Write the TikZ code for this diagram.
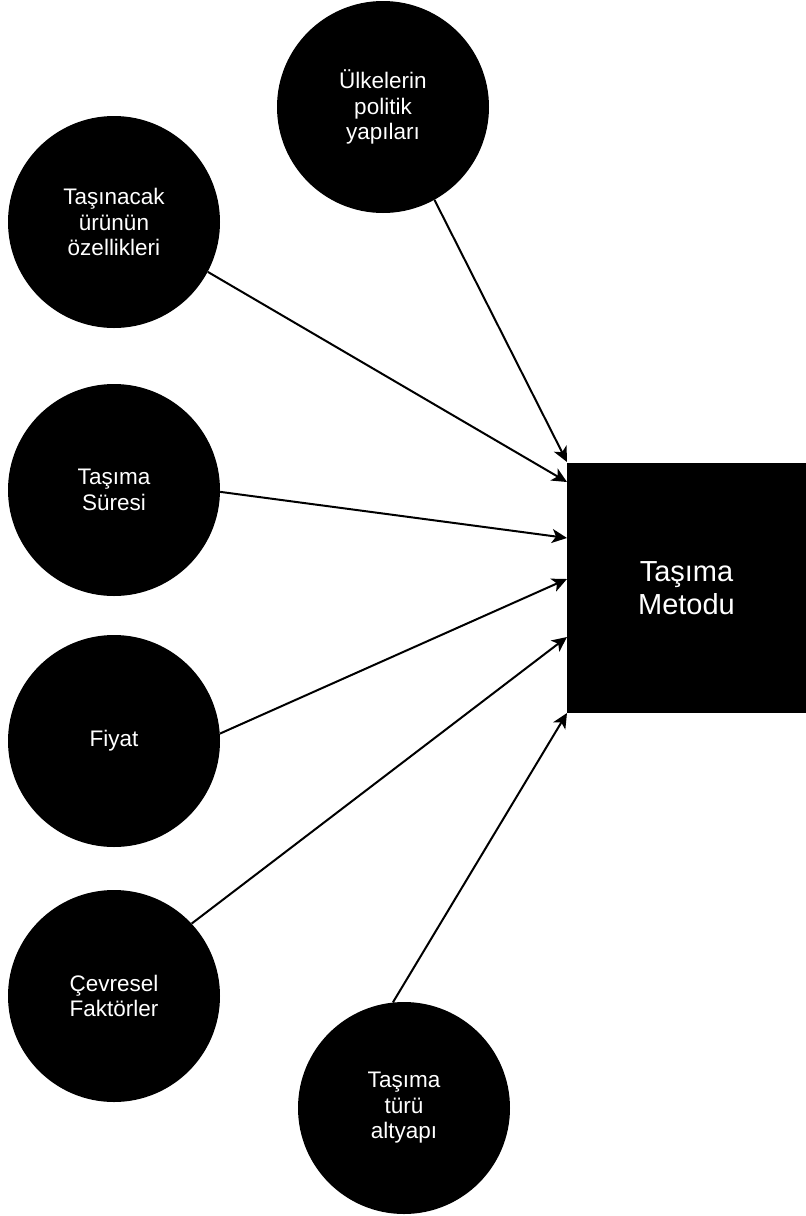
\documentclass[tikz,border=0pt]{standalone}
\usepackage{fontspec}
\setmainfont{Liberation Sans}
\usetikzlibrary{arrows.meta}
\begin{document}
\begin{tikzpicture}[x=1pt,y=-1pt,
  factor/.style={circle,fill=black,draw=none,minimum size=212pt,inner sep=0pt,
    text=white,align=center,font=\fontsize{22.5}{25.5}\selectfont},
  target/.style={rectangle,fill=black,draw=none,minimum width=239pt,minimum height=250pt,
    inner sep=0pt,text=white,align=center,font=\fontsize{29}{33}\selectfont},
  link/.style={line width=2pt,-{Stealth[length=15pt,width=14pt,inset=4pt]}}]
\useasboundingbox[fill=white] (0,0) rectangle (806,1216);
\node[factor] (c1) at (383,107) {Ülkelerin\\politik\\yapıları};
\node[factor] (c2) at (114,222) {Taşınacak\\ürünün\\özellikleri};
\node[factor] (c3) at (114,490) {Taşıma\\Süresi};
\node[factor] (c4) at (114,741) {Fiyat};
\node[factor] (c5) at (114,996) {Çevresel\\Faktörler};
\node[factor] (c6) at (404,1108) {Taşıma\\türü\\altyapı};
\node[target] (m) at (686.5,588) {Taşıma\\Metodu};
\coordinate (t1) at (567,462);
\coordinate (t2) at (567,482);
\coordinate (t3) at (567,538);
\coordinate (t4) at (567,579);
\coordinate (t5) at (567,637);
\coordinate (t6) at (567,713);
\draw[link] (c1.-61.7) -- (t1);
\draw[link] (c2.-28.5) -- (t2);
\draw[link] (c3.-1.6) -- (t3);
\draw[link] (c4.4.9) -- (t4);
\draw[link] (c5.43.2) -- (t5);
\draw[link] (c6.96) -- (t6);
\end{tikzpicture}
\end{document}
